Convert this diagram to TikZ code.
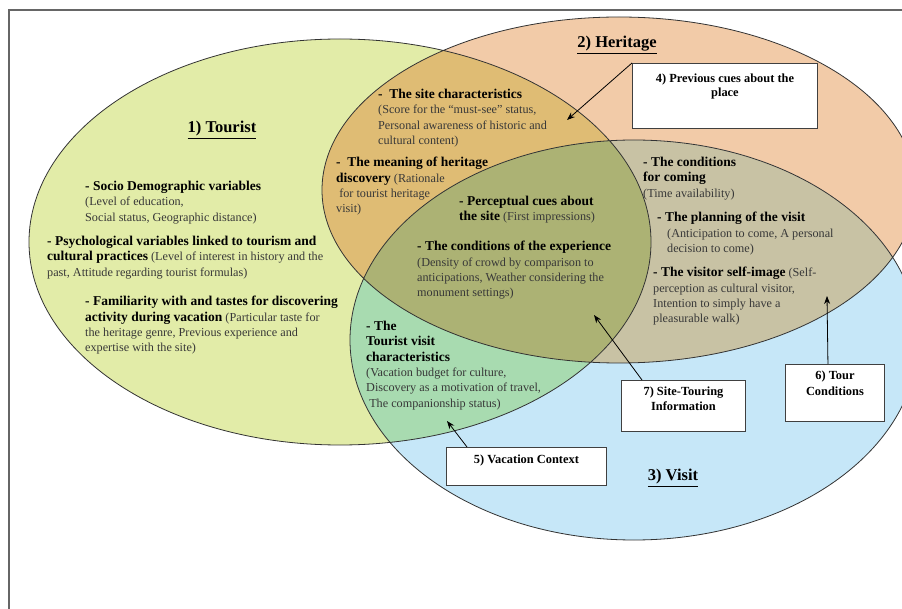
\documentclass[tikz,border=0pt]{standalone}
\usepackage{fontspec}
\setmainfont{Liberation Serif}
\usetikzlibrary{positioning, arrows.meta, calc}

\definecolor{touristFill}{HTML}{E2ECA8}
\definecolor{heritageFill}{HTML}{F2CBA8}
\definecolor{visitFill}{HTML}{C6E7F8}
\definecolor{touristHeritage}{HTML}{DFBC74}
\definecolor{heritageVisit}{HTML}{C8C2A4}
\definecolor{touristVisit}{HTML}{A8DBB0}
\definecolor{allThree}{HTML}{ACB274}

\def\touristEllipse{(340,242) ellipse [x radius=311pt, y radius=203pt]}
\def\heritageEllipse{(619,190) ellipse [x radius=297pt, y radius=173pt]}
\def\visitEllipse{(634,340) ellipse [x radius=284pt, y radius=200pt]}

\newcommand{\itemHead}[1]{{\fontsize{13.5}{15.3}\selectfont\bfseries\color{black}#1}}

\begin{document}
\begin{tikzpicture}[x=1pt, y=-1pt,
	item/.style={anchor=north west, align=left, inner sep=0pt, text=black!78, font=\fontsize{12.2}{15.3}\selectfont},
	heading/.style={inner sep=0pt, font=\fontsize{16.5}{18}\selectfont\bfseries},
	cueBox/.style={draw=black!75, line width=0.9pt, fill=white, inner sep=0pt, anchor=north west},
	boxText/.style={align=center, inner sep=0pt, anchor=north, font=\fontsize{12.4}{15}\selectfont\bfseries},
	cue/.style={-{Stealth[length=8pt,width=6pt]}, line width=0.8pt}]
	\clip (0,0) rectangle (902,609);
	\fill[white] (0,0) rectangle (902,609);
	
	% the three sets and their overlaps
	\fill[touristFill] \touristEllipse;
	\fill[heritageFill] \heritageEllipse;
	\fill[visitFill] \visitEllipse;
	\begin{scope}
		\clip \touristEllipse;
		\fill[touristHeritage] \heritageEllipse;
		\fill[touristVisit] \visitEllipse;
	\end{scope}
	\begin{scope}
		\clip \heritageEllipse;
		\fill[heritageVisit] \visitEllipse;
		\clip \touristEllipse;
		\fill[allThree] \visitEllipse;
	\end{scope}
	\draw[black!80, line width=0.8pt] \touristEllipse \heritageEllipse \visitEllipse;
	\draw[black!60, line width=1.2pt] (9,609) -- (9,10) -- (902,10);
	
	\node[heading] (touristTitle) at (222,130) {\underline{1) Tourist}};
	\node[heading] (heritageTitle) at (617,45) {\underline{2) Heritage}};
	\node[heading] (visitTitle) at (673,478) {\underline{3) Visit}};
	
	% tourist only
	\node[item] (socioDemo) at (85,181) {\itemHead{- Socio Demographic variables}\\
		(Level of education,\\
		Social status, Geographic distance)};
	\node[item] (psychoVar) at (47,236) {\itemHead{- Psychological variables linked to tourism and}\\
		\itemHead{cultural practices} (Level of interest in history and the\\
		past, Attitude regarding tourist formulas)};
	\node[item] (familiarity) at (85,296) {\itemHead{- Familiarity with and tastes for discovering}\\
		\itemHead{activity during vacation} (Particular taste for\\
		the heritage genre, Previous experience and\\
		expertise with the site)};
	
	% tourist and heritage
	\node[item] (siteChar) at (378,89) {\itemHead{-\ \ The site characteristics}\\
		(Score for the “must-see” status,\\
		Personal awareness of historic and\\
		cultural content)};
	\node[item] (heritageMeaning) at (336,157) {\itemHead{-\ \ The meaning of heritage}\\
		\itemHead{discovery} (Rationale\\
		\ for tourist heritage\\
		visit)};
	
	% all three
	\node[item] (perceptCues) at (459,196) {\itemHead{- Perceptual cues about}\\
		\itemHead{the site} (First impressions)};
	\node[item] (experience) at (417,241) {\itemHead{- The conditions of the experience}\\
		(Density of crowd by comparison to\\
		anticipations, Weather considering the\\
		monument settings)};
	
	% heritage and visit
	\node[item] (comingCond) at (643,157) {\itemHead{- The conditions}\\
		\itemHead{for coming}\\
		(Time availability)};
	\node[item] (planning) at (657,212) {\itemHead{- The planning of the visit}\\
		\hspace*{10pt}(Anticipation to come, A personal\\
		\hspace*{10pt}decision to come)};
	\node[item] (selfImage) at (653,267) {\itemHead{- The visitor self-image} (Self-\\
		perception as cultural visitor,\\
		Intention to simply have a\\
		pleasurable walk)};
	
	% tourist and visit
	\node[item] (visitChar) at (366,321) {\itemHead{- The}\\
		\itemHead{Tourist visit}\\
		\itemHead{characteristics}\\
		(Vacation budget for culture,\\
		Discovery as a motivation of travel,\\
		\ The companionship status)};
	
	% the cue boxes
	\node[cueBox, minimum width=185pt, minimum height=65pt] (prevCues) at (632,63) {};
	\node[boxText, below=11pt of prevCues.north, font=\fontsize{12.4}{13.5}\selectfont\bfseries] (prevCuesText) {4) Previous cues about the\\place};
	\node[cueBox, minimum width=160pt, minimum height=38pt] (vacContext) at (446,447) {};
	\node[boxText, below=8pt of vacContext.north] (vacContextText) {5) Vacation Context};
	\node[cueBox, minimum width=99pt, minimum height=57pt] (tourCond) at (785,364) {};
	\node[boxText, below=7pt of tourCond.north, font=\fontsize{12.4}{16}\selectfont\bfseries] (tourCondText) {6) Tour\\Conditions};
	\node[cueBox, minimum width=124pt, minimum height=51pt] (siteTouring) at (621,380) {};
	\node[boxText, below=7pt of siteTouring.north] (siteTouringText) {7) Site-Touring\\Information};
	
	\coordinate (siteCharTip) at (567,120);
	\coordinate (experienceTip) at (594,315);
	\coordinate (selfImageTip) at (827,296);
	\coordinate (visitCharTip) at (447,421);
	
	\draw[cue] (prevCues.north west) -- (siteCharTip);
	\draw[cue] ($(siteTouring.north west)+(21,0)$) -- (experienceTip);
	\draw[cue] ($(tourCond.north)+(-7,0)$) -- (selfImageTip);
	\draw[cue] ($(vacContext.north west)+(21,0)$) -- (visitCharTip);
\end{tikzpicture}
\end{document}
